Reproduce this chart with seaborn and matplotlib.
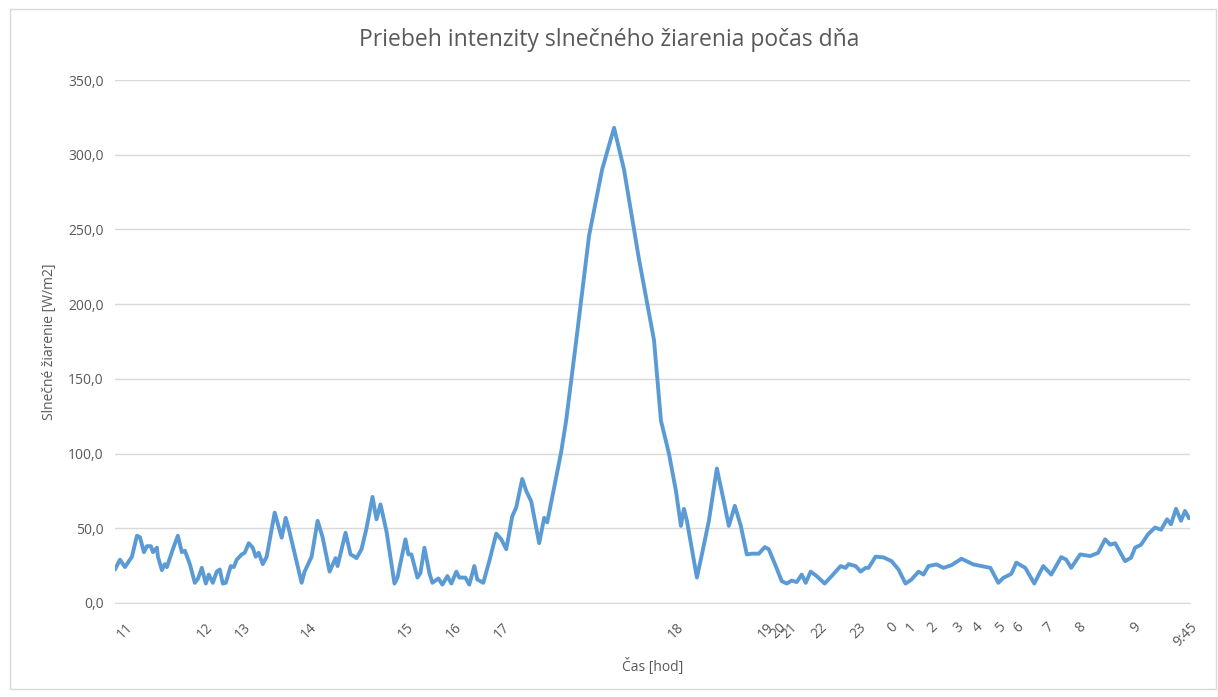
import numpy as np
import pandas as pd
import matplotlib
matplotlib.use("Agg")
import matplotlib.pyplot as plt
import seaborn as sns
from matplotlib.patches import Rectangle

sample_idx = [0, 5, 10, 17, 22, 25, 29, 32, 36, 38, 42, 43, 47, 50, 52, 55, 58, 63, 67, 70,
              75, 80, 83, 87, 91, 94, 98, 102, 105, 108, 111, 116, 119, 122, 127, 130, 134,
              138, 141, 144, 148, 152, 160, 167, 171, 174, 187, 190, 197, 203, 208, 215, 221,
              223, 231, 236, 240, 242, 247, 252, 258, 262, 266, 272, 280, 283, 291, 294, 297,
              303, 306, 310, 315, 318, 324, 328, 333, 337, 342, 345, 351, 355, 360, 363, 369,
              375, 382, 387, 392, 398, 402, 408, 412, 417, 425, 430, 433, 438, 447, 452, 462,
              475, 488, 500, 510, 525, 540, 547, 555, 562, 567, 570, 573, 583, 588, 595, 603,
              610, 615, 621, 627, 633, 638, 645, 651, 655, 662, 668, 673, 678, 683, 688, 692,
              697, 703, 711, 718, 727, 732, 735, 742, 747, 752, 755, 762, 770, 778, 785, 792,
              798, 805, 810, 815, 823, 830, 838, 848, 860, 868, 877, 885, 890, 898, 903, 912,
              921, 930, 938, 948, 953, 958, 967, 977, 985, 992, 997, 1002, 1012, 1018, 1022,
              1028, 1035, 1042, 1048, 1054, 1058, 1063, 1068, 1072, 1076]
irradiance = [22.4, 29, 24, 31, 45, 44, 34, 38, 38, 34, 37, 31, 22, 26, 24, 30, 36, 45, 34, 35,
              26, 13.5, 16, 23.5, 13, 19, 13.5, 21, 22.4, 13, 13.5, 24.7, 24, 29, 32.5, 33.6,
              40, 37, 31, 33.6, 26, 31, 60.5, 43.7, 57, 50, 13.5, 21, 31, 55, 44, 21, 30, 24.7,
              47, 32.5, 31, 30, 36, 50, 71, 56, 66, 48, 13, 17, 42.6, 32.5, 32.5, 17, 20, 37,
              20, 13.5, 16.4, 12.3, 18, 13, 21, 17, 17, 12.3, 24.7, 15.7, 13.5, 28, 46.4, 42.6,
              36, 58, 64, 83, 75, 68, 40, 57, 54, 70.6, 101, 122, 175, 246, 290, 318, 290, 230,
              176, 122, 100, 75, 51.6, 63, 55, 17, 32.5, 55, 90, 68, 51.6, 65, 51.6, 32.5, 33,
              33, 37.4, 36, 24.7, 14.6, 13, 15, 14, 19, 13.5, 21, 18, 13, 18, 24.7, 23.5, 26,
              24.7, 21, 23.5, 23.5, 31, 30.5, 28, 22.4, 13, 15.7, 21, 19, 24.7, 25.8, 23.5,
              25.3, 29.6, 25.8, 24.7, 23.5, 13.5, 16.8, 19.5, 27, 23.5, 13, 24.7, 19, 30.7, 29,
              23.5, 32.5, 31.4, 33.6, 42.6, 39, 40, 28, 30.3, 37, 39, 46, 50.5, 49, 56, 52.7,
              63, 55, 61.6, 56.7]

hour_pos = [10, 90, 128, 195, 292, 340, 388, 562, 653, 665, 676, 706, 745, 777, 795, 817,
            843, 862, 885, 903, 933, 965, 1020, 1077]
hour_labels = ["11", "12", "13", "14", "15", "16", "17", "18", "19", "20", "21", "22", "23",
               "0", "1", "2", "3", "4", "5", "6", "7", "8", "9", "9:45"]

df = pd.DataFrame({"sample": sample_idx, "value": irradiance})

sns.set_style("white")
plt.rcParams['font.family'] = ['Open Sans', 'DejaVu Sans']

txt = "#595959"
fig = plt.figure(figsize=(12.18, 6.97), dpi=100)
ax = fig.add_axes([0.0944, 0.1349, 0.8826, 0.7503])

sns.lineplot(data=df, x="sample", y="value", ax=ax, color="#5B9BD5", linewidth=2.8)

ax.set_xlim(0, 1076)
ax.set_ylim(0, 350)
ax.set_yticks(np.arange(0, 351, 50))
ax.set_yticklabels([f"{v:.1f}".replace(".", ",") for v in np.arange(0, 351, 50)],
                   color=txt, fontsize=10)
ax.yaxis.grid(True, color="#d9d9d9", linewidth=1)
ax.set_axisbelow(True)
for s in ["top", "right", "left"]:
    ax.spines[s].set_visible(False)
ax.spines["bottom"].set_color("#d9d9d9")
ax.tick_params(axis="y", length=0, pad=8)

ax.set_xticks(hour_pos)
ax.set_xticklabels(hour_labels, rotation=45, ha="right", rotation_mode="anchor",
                   color=txt, fontsize=10)
ax.tick_params(axis="x", length=0, pad=12)

ax.set_xlabel("Čas [hod]", color=txt, fontsize=10, labelpad=6)
ax.set_ylabel("Slnečné žiarenie [W/m2]", color=txt, fontsize=10, labelpad=8)
fig.suptitle("Priebeh intenzity slnečného žiarenia počas dňa", color=txt,
             fontsize=16.5, y=0.96)

fig.patches.append(Rectangle((0.008, 0.012), 0.99, 0.975, transform=fig.transFigure,
                             fill=False, edgecolor="#d9d9d9", linewidth=1))

plt.savefig("out.png", dpi=100)
